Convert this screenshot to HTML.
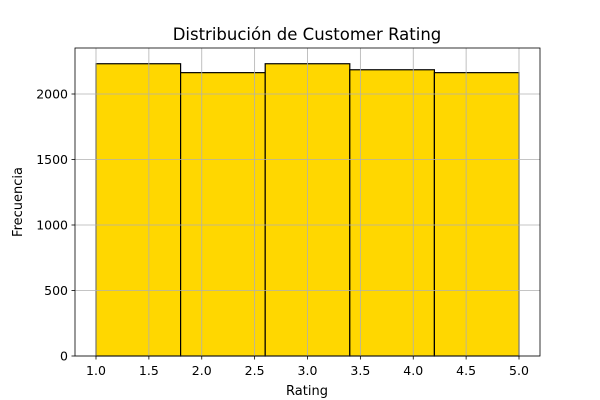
<!DOCTYPE html>
<html><head><meta charset="utf-8"><style>body{margin:0;background:#fff}svg{display:block;font-family:"DejaVu Sans","Liberation Sans",sans-serif}</style></head>
<body>
<svg id="chart" width="600" height="400"></svg>
<script>
const binEdges=[1.0,1.8,2.6,3.4,4.2,5.0];
const counts=[2231,2163,2231,2185,2163];
const xTicks=[1.0,1.5,2.0,2.5,3.0,3.5,4.0,4.5,5.0];
const yTicks=[0,500,1000,1500,2000];
const L=75,R=540,T=48,B=356;
const xs=v=>96+(v-1)*105.75;
const ys=v=>356-v*0.131;
const NS="http://www.w3.org/2000/svg";
const svg=document.getElementById('chart');
function mk(tag,attrs,parent){const e=document.createElementNS(NS,tag);for(const k in attrs)e.setAttribute(k,attrs[k]);(parent||svg).appendChild(e);return e;}
for(let i=0;i<counts.length;i++){
 const r=mk('rect',{x:xs(binEdges[i]),y:ys(counts[i]),width:xs(binEdges[i+1])-xs(binEdges[i]),height:B-ys(counts[i]),fill:'#ffd700',stroke:'#000','stroke-width':1.2});
 
 
}
const g=mk('g',{});


xTicks.forEach(v=>{mk('line',{x1:xs(v),x2:xs(v),y1:T,y2:B,stroke:'#b0b0b0','stroke-width':0.8},g);});
yTicks.forEach(v=>{mk('line',{x1:L,x2:R,y1:ys(v),y2:ys(v),stroke:'#b0b0b0','stroke-width':0.8},g);});
const fr=mk('rect',{x:L,y:T,width:R-L,height:B-T,fill:'none',stroke:'#000','stroke-width':0.8});


xTicks.forEach(v=>{
 mk('line',{x1:xs(v),x2:xs(v),y1:B,y2:B+3.5,stroke:'#000','stroke-width':0.8});
 const t=mk('text',{x:xs(v),y:B+19,'font-size':12.5,'text-anchor':'middle'});t.textContent=v.toFixed(1);
 
 
});
yTicks.forEach(v=>{
 mk('line',{x1:L-3.5,x2:L,y1:ys(v),y2:ys(v),stroke:'#000','stroke-width':0.8});
 const t=mk('text',{x:L-7,y:ys(v)+4.5,'font-size':12.5,'text-anchor':'end'});t.textContent=v;
 
 
});
</script>
<svg style="position:absolute;left:0;top:0" width="600" height="400">
<text x="307" y="40" font-size="16.5" text-anchor="middle">Distribución de Customer Rating</text>
<text x="307" y="395" font-size="13" text-anchor="middle">Rating</text>
<text x="22" y="202" font-size="13" text-anchor="middle" transform="rotate(-90 22 202)">Frecuencia</text>
</svg>
</body></html>
